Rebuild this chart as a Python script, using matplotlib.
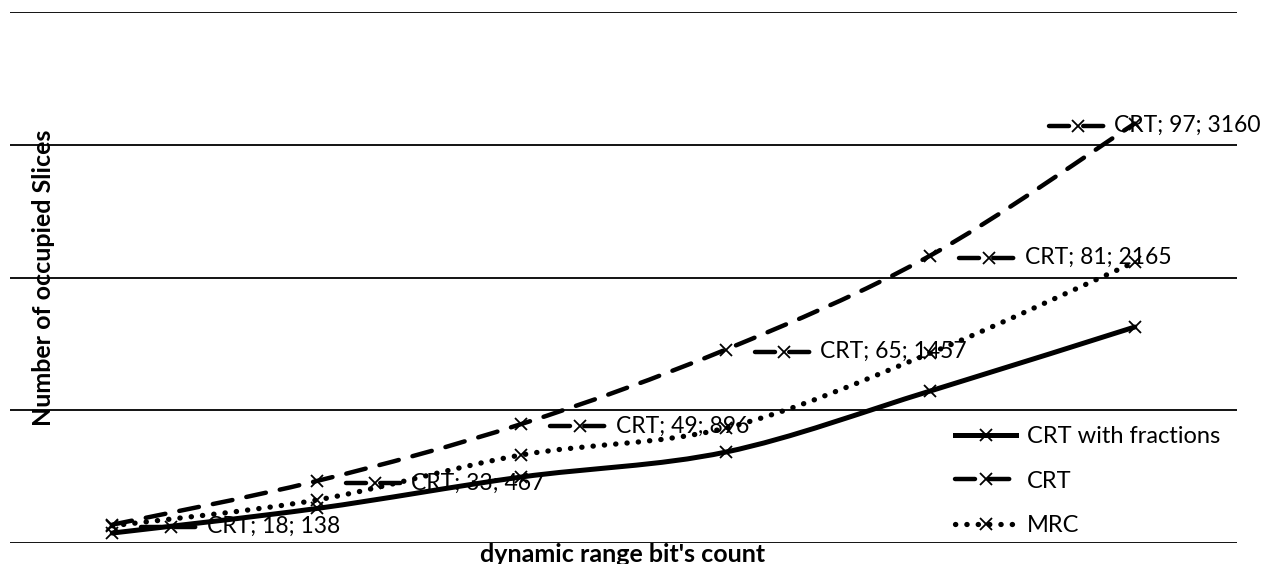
import numpy as np
import matplotlib
matplotlib.use('Agg')
import matplotlib.pyplot as plt
from matplotlib.path import Path
from matplotlib.patches import PathPatch
from matplotlib.lines import Line2D
from matplotlib.offsetbox import AnnotationBbox, DrawingArea, TextArea, HPacker

# data
bits = [18, 33, 49, 65, 81, 97]
crt_frac = [75, 260, 497, 685, 1145, 1627]
crt = [138, 467, 896, 1457, 2165, 3160]
mrc = [130, 324, 663, 866, 1430, 2116]

plt.rcParams['font.family'] = ['Lato', 'DejaVu Sans']
FS = 17


def smooth_path(xs, ys):
    # Excel-like smoothed line: cubic Bezier through the points
    pts = np.column_stack([xs, ys]).astype(float)
    n = len(pts)
    verts = [pts[0]]
    codes = [Path.MOVETO]
    for i in range(n - 1):
        p0 = pts[max(i - 1, 0)]
        p1 = pts[i]
        p2 = pts[i + 1]
        p3 = pts[min(i + 2, n - 1)]
        verts += [p1 + (p2 - p0) / 6, p2 - (p3 - p1) / 6, p2]
        codes += [Path.CURVE4] * 3
    return Path(verts, codes)


styles = {
    'CRT with fractions': dict(lw=3.6, ls='-'),
    'CRT': dict(lw=3.2, ls=(0, (4.5, 3.2))),
    'MRC': dict(lw=3.8, ls=(0, (0.05, 2.1))),
}
series = [('CRT with fractions', crt_frac), ('CRT', crt), ('MRC', mrc)]
MS, MEW = 9, 1.3

fig = plt.figure(figsize=(12.61, 5.64), dpi=100)
ax = fig.add_axes([10 / 1261, 1 - 543 / 564, 1227 / 1261, 531 / 564])

xpos = np.arange(len(bits))
for name, vals in series:
    st = styles[name]
    patch = PathPatch(smooth_path(xpos, vals), fill=False, edgecolor='black',
                      lw=st['lw'], linestyle=st['ls'], capstyle='round', zorder=3)
    ax.add_patch(patch)
    ax.plot(xpos, vals, 'x', color='black', ms=MS, mew=MEW, zorder=4)

ax.set_xlim(-0.5, len(bits) - 0.5)
ax.set_ylim(0, 4000)
ax.set_yticks([0, 1000, 2000, 3000, 4000])
ax.yaxis.grid(True, color='black', lw=1.3)
ax.set_xticks([])
ax.tick_params(left=False, labelleft=False)
for s in ax.spines.values():
    s.set_visible(False)
ax.set_axisbelow(True)

# data labels with legend key for the CRT series (last one pushed left to fit)
for i, (xv, b, v) in enumerate(zip(xpos, bits, crt)):
    da = DrawingArea(42, 12, 0, 0)
    key = Line2D([0, 21, 42], [6, 6, 6], color='black', lw=3.2,
                 linestyle=(0, (4.5, 3.2)), marker='x', markevery=[1],
                 ms=MS, mew=MEW, dash_capstyle='round')
    da.add_artist(key)
    txt = TextArea(f'CRT; {b}; {v}', textprops=dict(fontsize=FS - 0.5, color='black'))
    box = HPacker(children=[da, txt], align='center', pad=0, sep=5)
    dx = -62 if i == len(bits) - 1 else 21
    ab = AnnotationBbox(box, (xv, v), xybox=(dx, -1.5), xycoords='data',
                        boxcoords='offset points', box_alignment=(0, 0.5),
                        frameon=False, pad=0, zorder=5)
    ax.add_artist(ab)

handles = []
for name, _ in series:
    st = styles[name]
    handles.append(Line2D([], [], color='black', lw=st['lw'], linestyle=st['ls'],
                          marker='x', ms=MS, mew=MEW, dash_capstyle='round'))
leg = ax.legend(handles, [n for n, _ in series], loc='upper left',
                bbox_to_anchor=(955 / 1261, 1 - 426 / 564), bbox_transform=fig.transFigure,
                frameon=False, fontsize=FS, handlelength=2.6, handletextpad=0.45,
                labelspacing=1.0, borderpad=0, borderaxespad=0)

fig.text(44 / 1261, 1 - 278 / 564, 'Number of occupied Slices', rotation=90,
         ha='center', va='center', fontsize=18, fontweight='bold')
fig.text(623 / 1261, 1 - 554 / 564, "dynamic range bit's count",
         ha='center', va='center', fontsize=18, fontweight='bold')

fig.savefig('out.png', dpi=100)
